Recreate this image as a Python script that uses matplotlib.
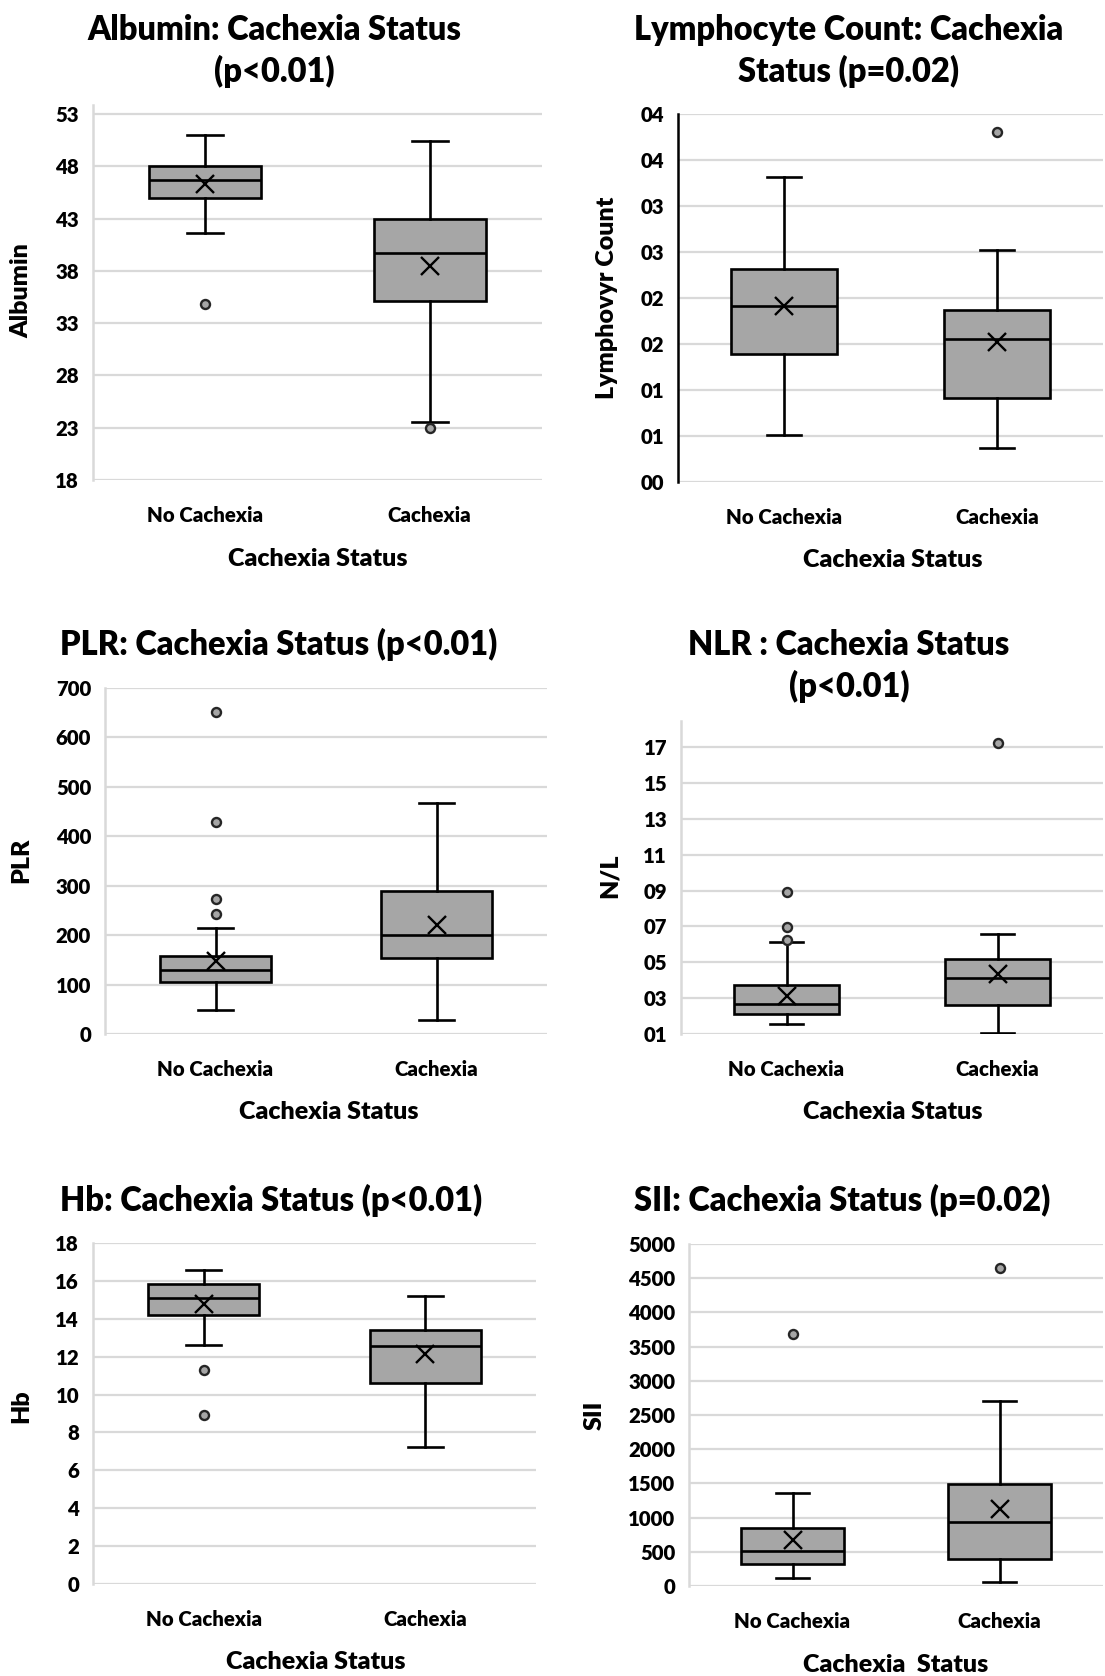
import matplotlib
matplotlib.use("Agg")
import matplotlib.pyplot as plt

plt.rcParams["font.family"] = ["Lato", "DejaVu Sans"]
plt.rcParams["font.weight"] = "heavy"

groups = ["No Cachexia", "Cachexia"]

# values (No Cachexia, Cachexia)
albumin_low = [41.6, 23.5]
albumin_q1 = [45.0, 35.1]
albumin_med = [46.7, 39.7]
albumin_q3 = [48.0, 43.0]
albumin_high = [51.0, 50.4]
albumin_mean = [46.3, 38.5]
albumin_out = [[34.8], [23.0]]

lymph_low = [0.51, 0.37]
lymph_q1 = [1.39, 0.91]
lymph_med = [1.91, 1.55]
lymph_q3 = [2.31, 1.87]
lymph_high = [3.32, 2.52]
lymph_mean = [1.91, 1.52]
lymph_out = [[], [3.80]]

plr_low = [49, 28]
plr_q1 = [105, 153]
plr_med = [130, 200]
plr_q3 = [157, 289]
plr_high = [215, 468]
plr_mean = [148, 221]
plr_out = [[652, 428, 273, 242], []]

nlr_low = [1.56, 1.06]
nlr_q1 = [2.13, 2.59]
nlr_med = [2.65, 4.14]
nlr_q3 = [3.72, 5.19]
nlr_high = [6.12, 6.57]
nlr_mean = [3.10, 4.34]
nlr_out = [[8.91, 6.99, 6.26], [17.2]]

hb_low = [12.63, 7.23]
hb_q1 = [14.19, 10.63]
hb_med = [15.11, 12.54]
hb_q3 = [15.86, 13.39]
hb_high = [16.60, 15.20]
hb_mean = [14.79, 12.15]
hb_out = [[11.30, 8.91], []]

sii_low = [118, 54]
sii_q1 = [328, 392]
sii_med = [509, 930]
sii_q3 = [847, 1484]
sii_high = [1366, 2698]
sii_mean = [671, 1126]
sii_out = [[3687], [4647]]

albumin_ticks = [18, 23, 28, 33, 38, 43, 48, 53]
lymph_ticks = [0, 0.5, 1, 1.5, 2, 2.5, 3, 3.5, 4]
lymph_ticklabels = ["00", "01", "01", "02", "02", "03", "03", "04", "04"]
plr_ticks = [0, 100, 200, 300, 400, 500, 600, 700]
nlr_ticks = [1, 3, 5, 7, 9, 11, 13, 15, 17]
nlr_ticklabels = ["01", "03", "05", "07", "09", "11", "13", "15", "17"]
hb_ticks = [0, 2, 4, 6, 8, 10, 12, 14, 16, 18]
sii_ticks = [0, 500, 1000, 1500, 2000, 2500, 3000, 3500, 4000, 4500, 5000]

W, H = 1105, 1676
fig = plt.figure(figsize=(W / 100, H / 100), dpi=100)


def stats_for(low, q1, med, q3, high, mean, out):
    return [
        dict(whislo=low[i], q1=q1[i], med=med[i], q3=q3[i], whishi=high[i],
             mean=mean[i], fliers=out[i])
        for i in range(len(groups))
    ]


def panel(box, stats, ylim, ticks, ticklabels, title, title_xy, ylabel,
          ylabel_xy, xlabel, xlabel_xy, spine="#D9D9D9"):
    left, top, right, bottom = box
    ax = fig.add_axes([left / W, 1 - bottom / H, (right - left) / W,
                       (bottom - top) / H])
    ax.bxp(
        stats, positions=[1, 2], widths=0.5, capwidths=0.16,
        showmeans=True, patch_artist=True,
        boxprops=dict(facecolor="#A6A6A6", edgecolor="black", linewidth=1.9),
        medianprops=dict(color="black", linewidth=1.9),
        whiskerprops=dict(color="black", linewidth=1.9),
        capprops=dict(color="black", linewidth=1.9),
        meanprops=dict(marker="x", markeredgecolor="black", markersize=13.5,
                       markeredgewidth=1.7),
        flierprops=dict(marker="o", markerfacecolor="#A6A6A6",
                        markeredgecolor="#262626", markersize=6.5,
                        markeredgewidth=1.7),
    )
    ax.set_xlim(0.5, 2.5)
    ax.set_ylim(*ylim)
    ax.set_yticks(ticks)
    if ticklabels is not None:
        ax.set_yticklabels(ticklabels)
    ax.set_xticks([1, 2])
    ax.set_xticklabels(groups)
    ax.tick_params(axis="both", length=0, labelsize=14.7)
    ax.tick_params(axis="y", pad=10)
    ax.tick_params(axis="x", pad=19)
    ax.yaxis.grid(True, color="#D9D9D9", linewidth=1.6)
    ax.set_axisbelow(True)
    for s in ["top", "right", "bottom"]:
        ax.spines[s].set_visible(False)
    ax.spines["left"].set_color(spine)
    ax.spines["left"].set_linewidth(1.8)
    fig.text(title_xy[0] / W, 1 - title_xy[1] / H, title, ha="center",
             va="center", fontsize=23.5, linespacing=1.3)
    fig.text(ylabel_xy[0] / W, 1 - ylabel_xy[1] / H, ylabel, ha="center",
             va="center", rotation=90, fontsize=18)
    fig.text(xlabel_xy[0] / W, 1 - xlabel_xy[1] / H, xlabel, ha="center",
             va="center", fontsize=18)
    return ax


panel((93, 105, 542, 480),
      stats_for(albumin_low, albumin_q1, albumin_med, albumin_q3,
                albumin_high, albumin_mean, albumin_out),
      (18, 53.86), albumin_ticks, None,
      "Albumin: Cachexia Status\n(p<0.01)", (274, 51),
      "Albumin", (21, 291), "Cachexia Status", (318, 559))

panel((678, 114, 1103, 482),
      stats_for(lymph_low, lymph_q1, lymph_med, lymph_q3, lymph_high,
                lymph_mean, lymph_out),
      (0, 4), lymph_ticks, lymph_ticklabels,
      "Lymphocyte Count: Cachexia\nStatus (p=0.02)", (849, 51),
      "Lymphovyr Count", (607, 298), "Cachexia Status", (893, 560),
      spine="black")

panel((105, 688, 547, 1034),
      stats_for(plr_low, plr_q1, plr_med, plr_q3, plr_high, plr_mean,
                plr_out),
      (0, 700), plr_ticks, None,
      "PLR: Cachexia Status (p<0.01)", (279, 644),
      "PLR", (21, 860), "Cachexia Status", (329, 1112))

panel((681, 721, 1103, 1034),
      stats_for(nlr_low, nlr_q1, nlr_med, nlr_q3, nlr_high, nlr_mean,
                nlr_out),
      (1, 18.45), nlr_ticks, nlr_ticklabels,
      "NLR : Cachexia Status\n(p<0.01)", (849, 666),
      "N/L", (610, 876), "Cachexia Status", (893, 1112))

panel((93, 1243, 536, 1584),
      stats_for(hb_low, hb_q1, hb_med, hb_q3, hb_high, hb_mean, hb_out),
      (0, 18), hb_ticks, None,
      "Hb: Cachexia Status (p<0.01)", (271, 1200),
      "Hb", (21, 1406), "Cachexia Status", (316, 1662))

panel((689, 1244, 1103, 1586),
      stats_for(sii_low, sii_q1, sii_med, sii_q3, sii_high, sii_mean,
                sii_out),
      (0, 5000), sii_ticks, None,
      "SII: Cachexia Status (p=0.02)", (842, 1200),
      "SII", (595, 1415), "Cachexia  Status", (896, 1665))

fig.savefig("out.png", dpi=100)
